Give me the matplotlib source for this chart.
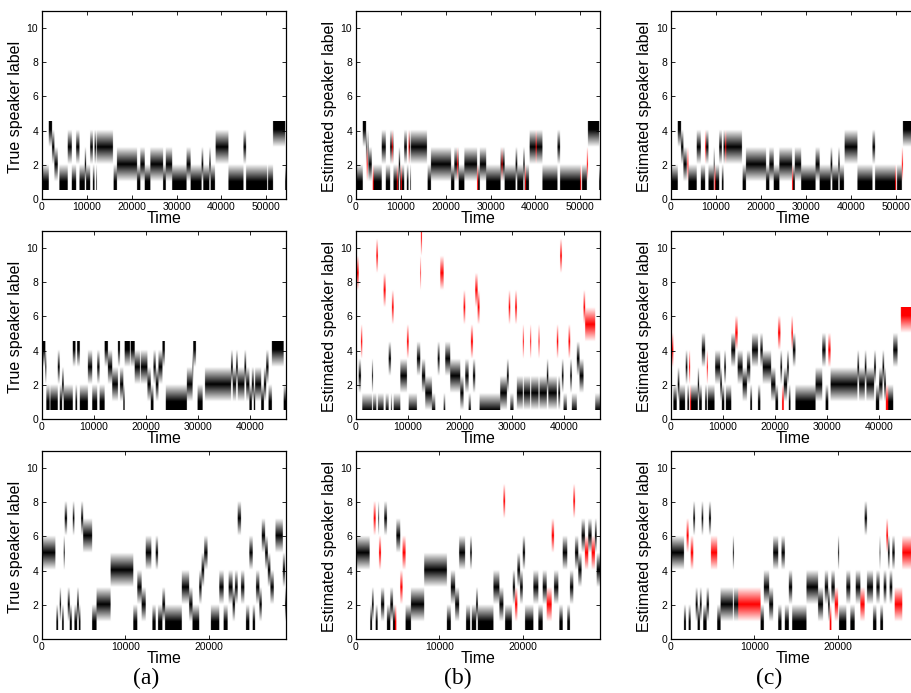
import numpy as np
import matplotlib.pyplot as plt

plt.rcParams['font.family'] = ['Liberation Sans', 'DejaVu Sans']

# length of each recording (one per row of panels)
T_END = [54400, 47000, 29300]

# ---- row 1 : true labels (segment start times / speaker label, 0 = silence)
r1a_t = [0, 1500, 2230, 2750, 3500, 3860, 5720, 6610, 7580, 8320, 9500, 9800,
         10700, 11290, 11660, 12040, 12190, 15750, 15900, 16640, 21100, 21840,
         22810, 24070, 26900, 27490, 28900, 32100, 33000, 35440, 35810, 37150,
         37450, 38410, 38560, 41390, 44730, 45320, 50000, 50200, 51300, 54000]
r1a_lab = [1, 4, 3, 2, 0, 1, 3, 1, 3, 1, 2, 1, 3, 1, 3, 1, 3, 0, 1, 2, 1, 2,
           1, 2, 1, 2, 1, 2, 1, 2, 1, 2, 1, 0, 3, 1, 3, 1, 0, 1, 4, 1]

# row 1 estimates = truth with a few short wrong frames (start time, label)
r1b_err_t = [2380, 3710, 7950, 9060, 9960, 11660, 22440, 26900, 32320,
             37520, 39900, 49780, 51270]
r1b_err_lab = [2, 1, 3, 1, 1, 3, 2, 1, 2, 1, 3, 1, 2]
r1c_err_t = [3640, 7580, 9660, 12040, 26900, 49780, 51270]
r1c_err_lab = [2, 3, 1, 3, 1, 1, 2]

# ---- row 2
r2a_t = [0, 640, 830, 1480, 1600, 3020, 3400, 3850, 4170, 5910, 6420, 6740,
         7250, 8800, 9630, 10590, 11040, 12010, 12650, 13480, 14570, 14960,
         15600, 15860, 16880, 17010, 17780, 18800, 18950, 20220, 20870, 21380,
         21830, 22340, 23110, 23560, 23750, 27800, 28890, 29020, 29530, 29850,
         30820, 31270, 36270, 36590, 37240, 37560, 38840, 39160, 39800, 40250,
         40640, 40890, 42050, 42560, 43010, 43460, 44100, 46350]
r2a_lab = [4, 3, 1, 0, 1, 3, 1, 2, 1, 4, 1, 4, 1, 3, 1, 3, 1, 4, 3, 2, 4, 2,
           1, 4, 0, 4, 3, 0, 3, 2, 1, 3, 2, 3, 4, 0, 1, 2, 3, 4, 0, 1, 0, 2,
           3, 2, 3, 2, 3, 2, 1, 2, 1, 2, 1, 2, 3, 1, 4, 1]

r2b_t = [0, 510, 960, 1200, 3070, 3260, 3900, 4200, 5300, 5690, 6260, 6710,
         6900, 7220, 8500, 9780, 10100, 11690, 12330, 12460, 12650, 13290,
         14570, 15210, 15660, 16040, 16170, 16810, 17130, 18080, 20000, 20640,
         20960, 21600, 22050, 22430, 22880, 23320, 23710, 27670, 28950, 29300,
         29590, 30220, 30540, 30860, 32010, 32200, 33420, 33600, 35010, 35200,
         36610, 36900, 38530, 38800, 39170, 39490, 39810, 40450, 40770, 41090,
         41410, 42370, 42880, 43640, 43960, 45880]
r2b_lab = [9, 3, 5, 1, 3, 1, 10, 1, 8, 1, 4, 1, 7, 1, 3, 5, 1, 4, 9, 11, 3, 2,
           1, 0, 4, 0, 9, 1, 4, 3, 2, 7, 3, 1, 5, 3, 8, 7, 1, 2, 3, 7, 1, 0,
           7, 2, 5, 2, 5, 2, 5, 2, 3, 2, 5, 2, 10, 3, 1, 0, 5, 3, 1, 4, 3, 7,
           6, 1]
r2b_red = [1, 0, 1, 0, 0, 0, 1, 0, 1, 0, 0, 0, 1, 0, 0, 1, 0, 0, 1, 1, 0, 0,
           0, 0, 0, 0, 1, 0, 0, 0, 0, 1, 0, 0, 1, 0, 1, 1, 0, 0, 0, 1, 0, 0,
           1, 0, 1, 0, 1, 0, 1, 0, 0, 0, 1, 0, 1, 0, 0, 0, 1, 0, 0, 0, 0, 1,
           1, 0]

r2c_t = [0, 450, 1090, 1280, 1610, 2700, 2820, 3150, 3470, 3660, 3850, 5140,
         5390, 5910, 6550, 6870, 7060, 8350, 8470, 9440, 9760, 10210, 10530,
         11560, 12330, 12780, 13740, 14570, 15220, 15540, 16690, 17140, 17590,
         19200, 20030, 20540, 20990, 21310, 21640, 22280, 22600, 22920, 23110,
         23370, 23880, 27730, 29020, 29660, 30170, 30620, 35760, 36080, 37170,
         37490, 38970, 39300, 39930, 40570, 40890, 41220, 41670, 42630, 43460,
         44100, 46220]
r2c_lab = [4, 1, 0, 2, 1, 0, 3, 1, 3, 1, 1, 2, 1, 4, 1, 3, 1, 0, 3, 2, 1, 3,
           1, 4, 5, 3, 2, 3, 1, 4, 1, 4, 3, 2, 1, 5, 3, 1, 2, 3, 1, 0, 5, 4,
           1, 2, 4, 1, 4, 2, 3, 2, 3, 2, 3, 1, 2, 3, 2, 1, 1, 4, 0, 6, 1]
r2c_red = [1, 0, 0, 0, 0, 0, 0, 0, 1, 1, 0, 0, 0, 0, 0, 1, 0, 0, 0, 0, 0, 0,
           0, 0, 1, 0, 0, 0, 0, 0, 0, 0, 0, 0, 0, 1, 0, 1, 0, 0, 0, 0, 1, 0,
           0, 0, 0, 0, 1, 0, 0, 0, 0, 0, 0, 0, 0, 0, 0, 1, 0, 0, 0, 1, 0]

# ---- row 3
r3a_t = [0, 1600, 1720, 1920, 2120, 2280, 2400, 2600, 2720, 3000, 3080, 3320,
         3560, 3680, 3880, 4200, 4400, 4600, 4680, 4920, 6000, 6520, 8200,
         10920, 11400, 11920, 12400, 13080, 13200, 13600, 13880, 14400, 14720,
         16720, 17600, 18000, 18800, 19080, 19400, 19800, 20200, 21200, 21720,
         22200, 22320, 22800, 23080, 23400, 23800, 24200, 24400, 24800, 25200,
         25480, 25600, 26000, 26280, 26680, 27000, 27320, 27720, 27920, 28800,
         29080]
r3a_lab = [5, 0, 1, 0, 2, 0, 1, 5, 7, 0, 2, 1, 0, 7, 1, 2, 1, 0, 7, 6, 1, 2,
           4, 1, 3, 2, 5, 0, 1, 5, 1, 2, 1, 3, 2, 1, 3, 4, 5, 0, 1, 3, 1, 0,
           3, 2, 3, 7, 3, 0, 1, 5, 1, 0, 3, 2, 6, 5, 4, 3, 0, 6, 4, 2]

r3b_t = [0, 1630, 1710, 1910, 2110, 2350, 2590, 2670, 2750, 2990, 3380, 3700,
         4100, 4420, 4650, 4820, 5290, 5570, 5930, 6570, 8160, 10870, 11340,
         11860, 12340, 13050, 13170, 13650, 13850, 14370, 14570, 16440, 17150,
         17630, 17830, 18630, 18750, 19020, 19300, 19620, 19940, 20220, 21210,
         21810, 22330, 22810, 23400, 23680, 24200, 24320, 24720, 25270, 25590,
         25990, 26190, 26580, 26980, 27380, 27780, 28180, 28580, 28780]
r3b_lab = [5, 0, 1, 2, 7, 1, 0, 7, 5, 2, 7, 1, 2, 1, 1, 6, 3, 5, 1, 2, 4, 1,
           3, 2, 5, 0, 1, 5, 1, 2, 1, 3, 2, 8, 1, 0, 3, 2, 4, 3, 5, 1, 3, 1,
           3, 2, 6, 3, 0, 1, 5, 1, 3, 8, 5, 4, 6, 5, 6, 5, 6, 4]
r3b_red = [0, 0, 0, 0, 1, 0, 0, 0, 1, 0, 0, 0, 0, 0, 1, 0, 1, 1, 0, 0, 0, 0,
           0, 0, 0, 0, 0, 0, 0, 0, 0, 0, 0, 1, 0, 0, 0, 1, 0, 0, 0, 0, 0, 0,
           0, 1, 1, 0, 0, 0, 0, 0, 0, 1, 0, 0, 0, 1, 0, 1, 0, 0]

r3c_t = [0, 1550, 1790, 1870, 2110, 2350, 2670, 2870, 2950, 3180, 3460, 3660,
         3860, 4260, 4540, 4780, 5530, 5930, 7400, 7520, 8040, 10710, 11100,
         11740, 12220, 12820, 13210, 13610, 14090, 14490, 16200, 17590, 18190,
         18390, 18790, 18980, 19180, 19580, 19980, 20100, 20970, 21450, 21970,
         22090, 22650, 23160, 23440, 24160, 24560, 24950, 25030, 25350, 25430,
         25750, 25950, 26150, 26470, 26750, 27660]
r3c_lab = [5, 1, 0, 6, 1, 5, 7, 0, 2, 1, 2, 7, 1, 2, 7, 5, 1, 2, 5, 2, 2, 1,
           3, 2, 5, 1, 5, 1, 3, 1, 3, 2, 0, 3, 2, 1, 3, 2, 5, 1, 3, 1, 0, 3,
           2, 7, 3, 1, 3, 5, 1, 0, 3, 6, 5, 3, 5, 2, 5]
r3c_red = [0, 0, 0, 1, 0, 1, 0, 0, 0, 0, 0, 0, 0, 0, 0, 1, 0, 0, 0, 0, 1, 0,
           0, 0, 0, 0, 0, 0, 0, 0, 0, 0, 0, 0, 0, 1, 0, 1, 0, 0, 0, 0, 0, 0,
           1, 0, 0, 0, 0, 0, 0, 0, 0, 1, 0, 0, 0, 1, 1]

ERR_W = 220  # width of the short error frames in row 1


def panel_image(starts, labels, reds, t_end, n_rows, shift=0.0,
                err_t=(), err_lab=()):
    nx, ny = 3000, 330
    tc = (np.arange(nx) + 0.5) * t_end / nx
    idx = np.searchsorted(starts, tc, side='right') - 1
    lab = np.asarray(labels, float)[idx]
    red = np.asarray(reds, bool)[idx]
    for t0, l in zip(err_t, err_lab):
        m = (tc >= t0) & (tc < t0 + ERR_W)
        lab[m] = l
        red[m] = True

    y_lo, y_hi = 0.5, n_rows + 0.5 + shift
    yc = y_lo + (np.arange(ny) + 0.5) * (y_hi - y_lo) / ny
    y_eff = np.clip(yc, 1 + shift, n_rows + shift)
    v = np.clip(1 - np.abs(y_eff[:, None] - (lab[None, :] + shift)), 0, 1)
    v[:, lab == 0] = 0

    img = np.ones((ny, nx, 3))
    img[..., 0] -= v * (~red)[None, :]
    img[..., 1] -= v
    img[..., 2] -= v
    return img, (0, t_end, y_lo, y_hi)


panels = [
    [(r1a_t, r1a_lab, [0] * len(r1a_lab), 4, 0.0, (), ()),
     (r1a_t, r1a_lab, [0] * len(r1a_lab), 4, 0.0, r1b_err_t, r1b_err_lab),
     (r1a_t, r1a_lab, [0] * len(r1a_lab), 4, 0.0, r1c_err_t, r1c_err_lab)],
    [(r2a_t, r2a_lab, [0] * len(r2a_lab), 4, 0.0, (), ()),
     (r2b_t, r2b_lab, r2b_red, 11, -0.5, (), ()),
     (r2c_t, r2c_lab, r2c_red, 6, 0.0, (), ())],
    [(r3a_t, r3a_lab, [0] * len(r3a_lab), 10, 0.0, (), ()),
     (r3b_t, r3b_lab, r3b_red, 10, 0.0, (), ()),
     (r3c_t, r3c_lab, r3c_red, 10, 0.0, (), ())],
]

W, H = 912, 693
fig = plt.figure(figsize=(W / 100, H / 100), dpi=100)

col_left = [41.7, 355.7, 671.0]
row_bottom = [199.0, 419.0, 639.0]
ax_w, ax_h = 244.5, 188.3

for r in range(3):
    for c in range(3):
        starts, labels, reds, n_rows, shift, et, el = panels[r][c]
        ax = fig.add_axes([col_left[c] / W, (H - row_bottom[r]) / H,
                           ax_w / W, ax_h / H])
        img, ext = panel_image(starts, labels, reds, T_END[r], n_rows,
                               shift, et, el)
        ax.imshow(img, extent=ext, origin='lower', aspect='auto')
        ax.set_xlim(0, T_END[r])
        ax.set_ylim(0, 11)
        ax.set_xticks(np.arange(0, T_END[r], 10000))
        ax.set_yticks(np.arange(0, 11, 2))
        ax.tick_params(direction='in', length=3, width=0.6, top=True,
                       right=True, labelsize=7.5, pad=2.5)
        for sp in ax.spines.values():
            sp.set_linewidth(0.9)
        ax.set_xlabel('Time', fontsize=11.5)
        ax.xaxis.set_label_coords(0.5, -0.064)
        ax.set_ylabel('True speaker label' if c == 0 else 'Estimated speaker label',
                      fontsize=11.5)
        ax.yaxis.set_label_coords(-0.076, 0.49)

for x, s in zip([146, 458, 769], ['(a)', '(b)', '(c)']):
    fig.text(x / W, 1 - 678 / H, s, fontsize=17, ha='center', va='center',
             family=['Liberation Serif', 'DejaVu Serif'])

fig.savefig('out.png', dpi=100)
